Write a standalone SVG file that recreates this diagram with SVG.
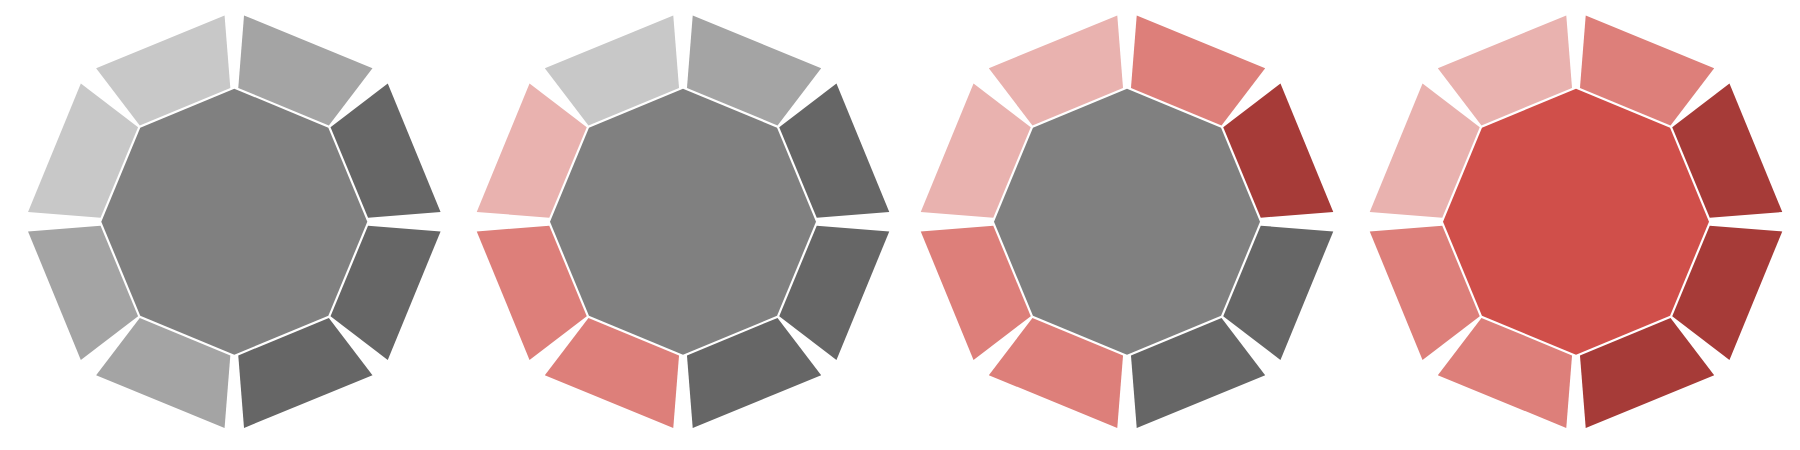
<svg xmlns="http://www.w3.org/2000/svg" xmlns:xlink="http://www.w3.org/1999/xlink" width="1800" height="450" viewBox="0 0 1800 450">
  <style>
    .g1 { fill: #c8c8c8; }
    .g2 { fill: #a4a4a4; }
    .g3 { fill: #666666; }
    .oc { fill: #808080; }
    .p1 { fill: #e9b2af; }
    .p2 { fill: #dd7f7a; }
    .p3 { fill: #a63b38; }
    .rd { fill: #d04f4a; }
  </style>
  <defs>
    <polygon id="seg" points="-50.53,-125.08 -68.93,-194.66 69.95,-194.29 47.51,-125.08"/>
    <polygon id="oct" points="0,-133 94.05,-94.05 133,0 94.05,94.05 0,133 -94.05,94.05 -133,0 -94.05,-94.05"/>
  </defs>
  <rect width="1800" height="450" fill="#ffffff"/>

  <g id="figure1" transform="translate(234.3,221.7)">
    <use id="f1-center" xlink:href="#oct" class="oc"/>
    <use id="f1-top-left" xlink:href="#seg" class="g1" transform="rotate(-22.5)"/>
    <use id="f1-top-right" xlink:href="#seg" class="g2" transform="rotate(22.5) scale(-1,1)"/>
    <use id="f1-right-upper" xlink:href="#seg" class="g3" transform="rotate(67.5)"/>
    <use id="f1-right-lower" xlink:href="#seg" class="g3" transform="rotate(112.5) scale(-1,1)"/>
    <use id="f1-bottom-right" xlink:href="#seg" class="g3" transform="rotate(157.5)"/>
    <use id="f1-bottom-left" xlink:href="#seg" class="g2" transform="rotate(-157.5) scale(-1,1)"/>
    <use id="f1-left-lower" xlink:href="#seg" class="g2" transform="rotate(-112.5)"/>
    <use id="f1-left-upper" xlink:href="#seg" class="g1" transform="rotate(-67.5) scale(-1,1)"/>
  </g>

  <g id="figure2" transform="translate(683,221.7)">
    <use id="f2-center" xlink:href="#oct" class="oc"/>
    <use id="f2-top-left" xlink:href="#seg" class="g1" transform="rotate(-22.5)"/>
    <use id="f2-top-right" xlink:href="#seg" class="g2" transform="rotate(22.5) scale(-1,1)"/>
    <use id="f2-right-upper" xlink:href="#seg" class="g3" transform="rotate(67.5)"/>
    <use id="f2-right-lower" xlink:href="#seg" class="g3" transform="rotate(112.5) scale(-1,1)"/>
    <use id="f2-bottom-right" xlink:href="#seg" class="g3" transform="rotate(157.5)"/>
    <use id="f2-bottom-left" xlink:href="#seg" class="p2" transform="rotate(-157.5) scale(-1,1)"/>
    <use id="f2-left-lower" xlink:href="#seg" class="p2" transform="rotate(-112.5)"/>
    <use id="f2-left-upper" xlink:href="#seg" class="p1" transform="rotate(-67.5) scale(-1,1)"/>
  </g>

  <g id="figure3" transform="translate(1127,221.7)">
    <use id="f3-center" xlink:href="#oct" class="oc"/>
    <use id="f3-top-left" xlink:href="#seg" class="p1" transform="rotate(-22.5)"/>
    <use id="f3-top-right" xlink:href="#seg" class="p2" transform="rotate(22.5) scale(-1,1)"/>
    <use id="f3-right-upper" xlink:href="#seg" class="p3" transform="rotate(67.5)"/>
    <use id="f3-right-lower" xlink:href="#seg" class="g3" transform="rotate(112.5) scale(-1,1)"/>
    <use id="f3-bottom-right" xlink:href="#seg" class="g3" transform="rotate(157.5)"/>
    <use id="f3-bottom-left" xlink:href="#seg" class="p2" transform="rotate(-157.5) scale(-1,1)"/>
    <use id="f3-left-lower" xlink:href="#seg" class="p2" transform="rotate(-112.5)"/>
    <use id="f3-left-upper" xlink:href="#seg" class="p1" transform="rotate(-67.5) scale(-1,1)"/>
  </g>

  <g id="figure4" transform="translate(1576,221.7)">
    <use id="f4-center" xlink:href="#oct" class="rd"/>
    <use id="f4-top-left" xlink:href="#seg" class="p1" transform="rotate(-22.5)"/>
    <use id="f4-top-right" xlink:href="#seg" class="p2" transform="rotate(22.5) scale(-1,1)"/>
    <use id="f4-right-upper" xlink:href="#seg" class="p3" transform="rotate(67.5)"/>
    <use id="f4-right-lower" xlink:href="#seg" class="p3" transform="rotate(112.5) scale(-1,1)"/>
    <use id="f4-bottom-right" xlink:href="#seg" class="p3" transform="rotate(157.5)"/>
    <use id="f4-bottom-left" xlink:href="#seg" class="p2" transform="rotate(-157.5) scale(-1,1)"/>
    <use id="f4-left-lower" xlink:href="#seg" class="p2" transform="rotate(-112.5)"/>
    <use id="f4-left-upper" xlink:href="#seg" class="p1" transform="rotate(-67.5) scale(-1,1)"/>
  </g>

  <g id="connectors"/>
</svg>
